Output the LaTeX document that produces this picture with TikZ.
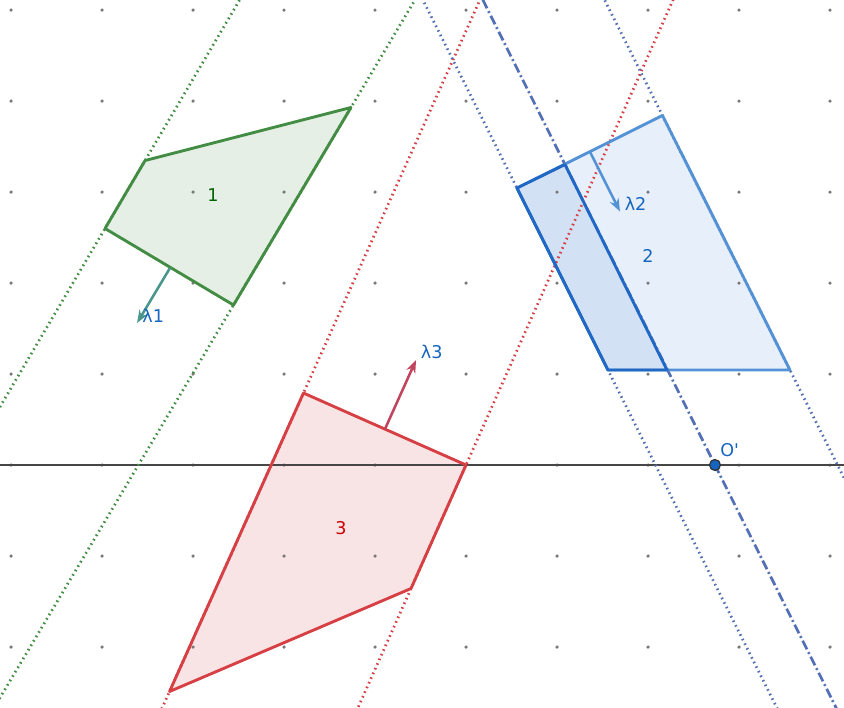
\documentclass[tikz,border=0pt]{standalone}
\usepackage{fontspec}
\setmainfont{DejaVu Sans}
\newfontfamily\plainsans[Ligatures=ResetAll]{DejaVu Sans}
\usepackage{xcolor}
\usetikzlibrary{calc,arrows.meta}
\definecolor{polygreen}{RGB}{67,140,67}
\definecolor{polygreenfill}{RGB}{229,239,229}
\definecolor{polyred}{RGB}{214,64,68}
\definecolor{polyredfill}{RGB}{249,228,229}
\definecolor{polyblue}{RGB}{32,104,196}
\definecolor{polybluelight}{RGB}{84,146,214}
\definecolor{polybluefill}{RGB}{231,239,250}
\definecolor{polybluedark}{RGB}{211,225,244}
\definecolor{linesblue}{RGB}{84,112,180}
\definecolor{labelblue}{RGB}{21,101,192}
\definecolor{labelgreen}{RGB}{0,100,0}
\definecolor{labelred}{RGB}{204,0,0}
\definecolor{lambdateal}{RGB}{74,150,140}
\definecolor{lambdared}{RGB}{192,70,96}
\definecolor{gridgray}{RGB}{120,120,120}
\definecolor{axisgray}{RGB}{70,70,70}

\begin{document}
\begin{tikzpicture}[
    gdot/.style={polygreen, line width=0.85pt, dash pattern=on 0.5pt off 1.1pt},
    rdot/.style={polyred, line width=0.85pt, dash pattern=on 0.5pt off 1.1pt},
    bdot/.style={linesblue, line width=0.85pt, dash pattern=on 0.5pt off 1.1pt},
    bdashdot/.style={linesblue, line width=0.85pt, dash pattern=on 3pt off 1pt on 0.6pt off 1pt},
    edge/.style={line width=0.9pt, line join=round},
    arrow/.style={-{Stealth[length=4pt, width=3pt]}, line width=0.8pt},
    lbl/.style={font=\fontsize{5.5}{6.5}\selectfont, inner sep=0.5pt}
]
    \useasboundingbox (-0.121,-2.670) rectangle (9.154,5.110);
    \clip (-0.121,-2.670) rectangle (9.154,5.110);

    \coordinate (A1) at (1.473,3.346);
    \coordinate (B1) at (3.736,3.929);
    \coordinate (C1) at (2.445,1.758);
    \coordinate (D1) at (1.033,2.599);

    \coordinate (P2) at (5.560,3.044);
    \coordinate (X2) at (6.088,3.302);
    \coordinate (Q2) at (7.159,3.841);
    \coordinate (R2) at (8.560,1.044);
    \coordinate (Y2) at (7.209,1.044);
    \coordinate (S2) at (6.560,1.044);

    \coordinate (T3) at (3.214,0.791);
    \coordinate (U3) at (5.000,0);
    \coordinate (V3) at (4.396,-1.357);
    \coordinate (W3) at (1.742,-2.489);

    \coordinate (axisL) at (-0.2,0);
    \coordinate (axisR) at (9.3,0);
    \coordinate (O) at (7.736,0);

    \fill[polygreenfill] (A1) -- (B1) -- (C1) -- (D1) -- cycle;
    \fill[polybluefill] (P2) -- (Q2) -- (R2) -- (S2) -- cycle;
    \fill[polybluedark] (P2) -- (X2) -- (Y2) -- (S2) -- cycle;
    \fill[polyredfill] (T3) -- (U3) -- (V3) -- (W3) -- cycle;

    \foreach \x in {0,...,9}
        \foreach \y in {-2,...,5}
            \fill[gridgray] (\x,\y) circle (0.55pt);

    \draw[axisgray, line width=0.85pt] (axisL) -- (axisR);

    \draw[gdot] ($(D1)!-6!(A1)$) -- ($(A1)!-6!(D1)$);
    \draw[gdot] ($(C1)!-6!(B1)$) -- ($(B1)!-6!(C1)$);
    \draw[rdot] ($(W3)!-4!(T3)$) -- ($(T3)!-4!(W3)$);
    \draw[rdot] ($(V3)!-8!(U3)$) -- ($(U3)!-8!(V3)$);
    \draw[bdot] ($(S2)!-4!(P2)$) -- ($(P2)!-4!(S2)$);
    \draw[bdot] ($(R2)!-4!(Q2)$) -- ($(Q2)!-4!(R2)$);
    \draw[bdashdot] ($(O)!-2!(X2)$) -- ($(X2)!-2!(O)$);

    \draw[edge, polygreen] (A1) -- (B1) -- (C1) -- (D1) -- cycle;
    \draw[edge, polybluelight] (P2) -- (Q2) -- (R2) -- (S2) -- cycle;
    \draw[edge, polyblue] (P2) -- (X2) -- (Y2) -- (S2) -- cycle;
    \draw[edge, polyred] (T3) -- (U3) -- (V3) -- (W3) -- cycle;

    \coordinate (l1s) at (1.747,2.165);
    \coordinate (l1e) at (1.385,1.560);
    \coordinate (l2s) at (6.363,3.440);
    \coordinate (l2e) at (6.692,2.786);
    \coordinate (l3s) at (4.110,0.396);
    \coordinate (l3e) at (4.451,1.154);

    \draw[arrow, lambdateal] (l1s) -- (l1e);
    \draw[arrow, polybluelight] (l2s) -- (l2e);
    \draw[arrow, lambdared] (l3s) -- (l3e);

    \node[lbl, anchor=west, text=labelblue] (lam1) at (1.42,1.637) {λ1};
    \node[lbl, anchor=west, text=labelblue] (lam2) at (6.72,2.868) {λ2};
    \node[lbl, anchor=west, text=labelblue] (lam3) at (4.48,1.242) {λ3};
    \node[lbl, text=labelgreen] (one) at (2.220,2.967) {1};
    \node[lbl, text=labelblue] (two) at (7.000,2.297) {2};
    \node[lbl, text=labelred] (three) at (3.626,-0.692) {3};

    \fill[labelblue, draw=black!80, line width=0.4pt] (O) circle (1.7pt);
    \node[lbl, anchor=west, text=labelblue] (Olbl) at (7.77,0.165) {\plainsans O'};
\end{tikzpicture}
\end{document}
